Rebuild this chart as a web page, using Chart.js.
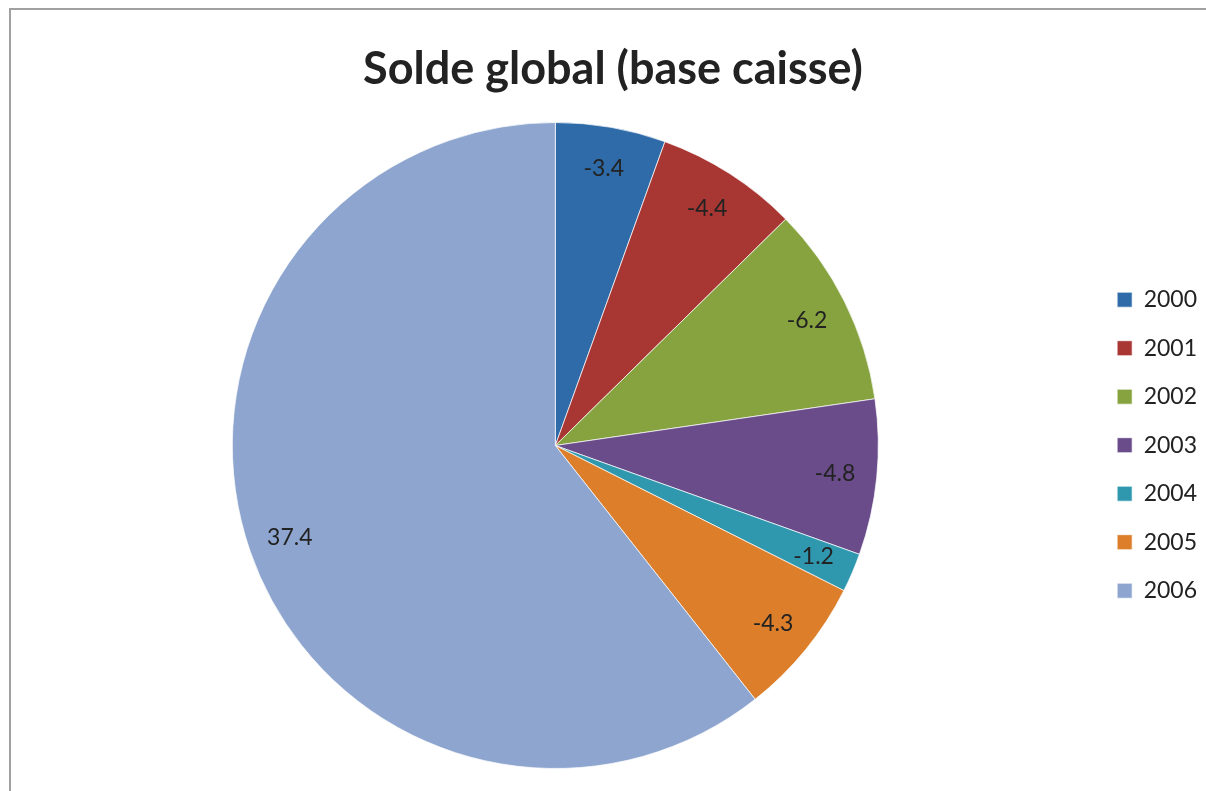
<!DOCTYPE html>
<html>
<head>
<meta charset="utf-8">
<script src="https://cdn.jsdelivr.net/npm/chart.js@4"></script>
<style>
  html, body { margin:0; padding:0; background:#fff; overflow:hidden; }
  #frame { position:absolute; left:9px; top:8px; width:1204px; height:790px; border:2px solid #a0a0a0; box-sizing:border-box; }
  #box { position:absolute; left:1px; top:1px; width:1200px; height:784px; }
</style>
</head>
<body>
<div id="frame"><div id="box"><canvas id="chartSolde"></canvas></div></div>
<script>
const years = ["2000","2001","2002","2003","2004","2005","2006"];
const solde = [-3.4, -4.4, -6.2, -4.8, -1.2, -4.3, 37.4];
const sliceColors = ["#2E6BA8","#A83734","#86A33F","#6A4C8A","#2F98AF","#DC7E2A","#8EA6CF"];

// Excel-style value labels inside each slice
const sliceLabels = {
  id:"sliceLabels",
  afterDatasetsDraw(chart){
    const ctx = chart.ctx;
    const meta = chart.getDatasetMeta(0);
    ctx.save();
    ctx.font = "23px Lato, 'Open Sans', sans-serif";
    ctx.fillStyle = "#222";
    ctx.textAlign = "center";
    ctx.textBaseline = "middle";
    meta.data.forEach((arc, i) => {
      const mid = (arc.startAngle + arc.endAngle) / 2;
      const r = arc.outerRadius * 0.87;
      ctx.fillText(String(solde[i]), arc.x + Math.cos(mid) * r, arc.y + Math.sin(mid) * r);
    });
    ctx.restore();
  }
};

new Chart(document.getElementById("chartSolde"), {
  type:"pie",
  data:{ labels:years, datasets:[{ data:solde, backgroundColor:sliceColors, borderColor:"rgba(255,255,255,0.7)", borderWidth:1 }] },
  options:{
    responsive:true, maintainAspectRatio:false, animation:false,
    layout:{ padding:{ left:7, right:5, top:0, bottom:26 } },
    plugins:{
      title:{ display:true, text:"Solde global (base caisse)", color:"#222",
        font:{ family:"Lato, 'Open Sans', sans-serif", size:45, weight:"bold" }, padding:{ top:31, bottom:26 } },
      legend:{ position:"right",
        title:{ display:true, text:"", padding:{ top:96, bottom:0 } },
        labels:{ color:"#222", boxWidth:15, boxHeight:15, padding:25.5,
          font:{ family:"Lato, 'Open Sans', sans-serif", size:23 } } },
      tooltip:{ enabled:false }
    }
  },
  plugins:[sliceLabels]
});
</script>
</body>
</html>
